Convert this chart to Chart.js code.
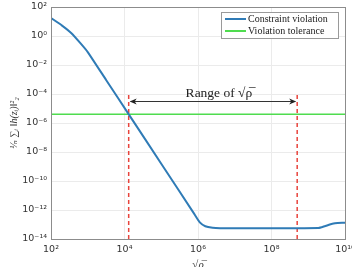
<!DOCTYPE html>
<html>
<head>
  <title>Constraint violation vs sqrt(rho)</title>
  <script src="https://cdn.jsdelivr.net/npm/chart.js"></script>
  <style>
    body {
      margin: 0;
      background: #fff;
      overflow: hidden;
    }
    #wrap {
      position: relative;
      width: 352px;
      height: 267px;
    }
  </style>
</head>
<body>
  <div id="wrap"><canvas id="c"></canvas></div>

  <script>
    // (log-log axes)
    const sqrtRho   = [1e2, 2e2, 3.6e2, 6.3e2, 1e3, 3.16e3, 1.32e4, 1e5, 7.9e5, 1.12e6, 1.58e6, 2.5e6, 4e6, 1e7, 1e8, 1.9e9, 2.8e9, 4.5e9, 6.3e9, 1e10];
    const violation = [17.4, 5.2, 1.55, 0.32, 0.078, 9.3e-4, 3.8e-6, 1.55e-9, 5.4e-13, 1.4e-13, 7.6e-14, 6.0e-14, 5.6e-14, 5.6e-14, 5.6e-14, 5.7e-14, 7.6e-14, 1.12e-13, 1.29e-13, 1.3e-13];

    const tolX = [1e2, 1e10];
    const tolerance = 4e-6;

    const rangeLo = 1.3e4;
    const rangeHi = 5e8;
    const rangeTop = 1.3e-4;
    const rangeBottom = 1e-14;

    const xTickVals = [1e2, 1e4, 1e6, 1e8, 1e10];
    const xTickLabels = ['10²', '10⁴', '10⁶', '10⁸', '10¹⁰'];
    const yTickVals = [1e-14, 1e-12, 1e-10, 1e-8, 1e-6, 1e-4, 1e-2, 1e0, 1e2];
    const yTickLabels = ['10⁻¹⁴', '10⁻¹²', '10⁻¹⁰', '10⁻⁸', '10⁻⁶', '10⁻⁴', '10⁻²', '10⁰', '10²'];

    const rangeText = 'Range of √ρ̅';

    const pts = (xs, ys) => xs.map((x, i) => ({ x: x, y: ys[i] }));

    const tickFont = { family: '"DejaVu Sans", sans-serif', size: 9.5 };

    // box round the axes + legend + range arrow
    const extras = {
      id: 'extras',
      afterDraw(chart) {
        const ctx = chart.ctx;
        const a = chart.chartArea;
        const xs = chart.scales.x;
        ctx.save();

        ctx.strokeStyle = '#8c8c8c';
        ctx.lineWidth = 1;
        ctx.strokeRect(Math.round(a.left) + 0.5, Math.round(a.top) + 0.5,
                       Math.round(a.right - a.left), Math.round(a.bottom - a.top));

        // range arrow
        const x1 = xs.getPixelForValue(rangeLo);
        const x2 = xs.getPixelForValue(rangeHi);
        const ay = 101.5;
        ctx.strokeStyle = '#333';
        ctx.fillStyle = '#222';
        ctx.beginPath();
        ctx.moveTo(x1 + 2, ay);
        ctx.lineTo(x2 - 2, ay);
        ctx.stroke();
        ctx.beginPath();
        ctx.moveTo(x1 + 1, ay); ctx.lineTo(x1 + 8, ay - 3); ctx.lineTo(x1 + 6, ay); ctx.lineTo(x1 + 8, ay + 3);
        ctx.closePath(); ctx.fill();
        ctx.beginPath();
        ctx.moveTo(x2 - 1, ay); ctx.lineTo(x2 - 8, ay - 3); ctx.lineTo(x2 - 6, ay); ctx.lineTo(x2 - 8, ay + 3);
        ctx.closePath(); ctx.fill();

        ctx.font = '13.5px "Liberation Serif", serif';
        ctx.textAlign = 'center';
        ctx.textBaseline = 'alphabetic';
        ctx.fillText(rangeText, (x1 + x2) / 2 + 6, 97);

        // legend
        const lx = 221, ly = 12, lw = 117, lh = 26;
        ctx.fillStyle = '#fff';
        ctx.fillRect(lx, ly, lw, lh);
        ctx.strokeStyle = '#9a9a9a';
        ctx.lineWidth = 1;
        ctx.strokeRect(lx + 0.5, ly + 0.5, lw, lh);
        ctx.font = '10px "Liberation Serif", serif';
        ctx.textAlign = 'left';
        ctx.textBaseline = 'middle';
        chart.data.datasets.slice(0, 2).forEach((ds, i) => {
          const y = ly + 7 + i * 12;
          ctx.strokeStyle = ds.borderColor;
          ctx.lineWidth = 2;
          ctx.beginPath();
          ctx.moveTo(lx + 4, y);
          ctx.lineTo(lx + 25, y);
          ctx.stroke();
          ctx.fillStyle = '#222';
          ctx.fillText(ds.label, lx + 27, y);
        });
        ctx.restore();
      }
    };

    new Chart(document.getElementById('c'), {
      type: 'scatter',
      data: {
        datasets: [
          {
            label: 'Constraint violation',
            data: pts(sqrtRho, violation),
            borderColor: '#2f7bb6',
            borderWidth: 2,
            showLine: true,
            pointRadius: 0,
            tension: 0.15
          },
          {
            label: 'Violation tolerance',
            data: pts(tolX, [tolerance, tolerance]),
            borderColor: '#4fdc4f',
            borderWidth: 1.6,
            showLine: true,
            pointRadius: 0
          },
          {
            label: 'lo',
            data: pts([rangeLo, rangeLo], [rangeBottom, rangeTop]),
            borderColor: '#e8443c',
            borderWidth: 1.5,
            borderDash: [4, 3],
            showLine: true,
            pointRadius: 0
          },
          {
            label: 'hi',
            data: pts([rangeHi, rangeHi], [rangeBottom, rangeTop]),
            borderColor: '#e8443c',
            borderWidth: 1.5,
            borderDash: [4, 3],
            showLine: true,
            pointRadius: 0
          }
        ]
      },
      options: {
        responsive: true,
        maintainAspectRatio: false,
        animation: false,
        layout: { padding: { left: 0, right: 7, top: 7, bottom: 0 } },
        plugins: {
          legend: { display: false },
          tooltip: { enabled: false }
        },
        scales: {
          x: {
            type: 'logarithmic',
            min: 1e2,
            max: 1e10,
            afterBuildTicks: (s) => { s.ticks = xTickVals.map(v => ({ value: v })); },
            afterFit: (s) => { s.height = 28; s.paddingLeft = 0; s.paddingRight = 0; },
            ticks: {
              autoSkip: false,
              maxRotation: 0,
              padding: 5,
              color: '#333',
              font: tickFont,
              callback: (v) => xTickLabels[xTickVals.indexOf(v)] || ''
            },
            grid: { color: '#ebebeb', drawTicks: false },
            border: { display: false },
            title: {
              display: true,
              text: '√ρ̅',
              color: '#333',
              padding: { top: 0, bottom: -5 },
              font: { family: '"Liberation Serif", serif', size: 11, style: 'italic' }
            }
          },
          y: {
            type: 'logarithmic',
            min: 1e-14,
            max: 1e2,
            afterBuildTicks: (s) => { s.ticks = yTickVals.map(v => ({ value: v })); },
            afterFit: (s) => { s.width = 51; s.paddingTop = 0; s.paddingBottom = 0; },
            ticks: {
              autoSkip: false,
              padding: 4,
              color: '#333',
              font: tickFont,
              callback: (v) => yTickLabels[yTickVals.indexOf(v)] || ''
            },
            grid: { color: '#ebebeb', drawTicks: false },
            border: { display: false },
            title: {
              display: true,
              text: '¹⁄ₙ ∑ᵢ ‖h(zᵢ)‖²₂',
              color: '#333',
              padding: { top: 8, bottom: 0 },
              font: { family: '"Liberation Serif", "DejaVu Serif", serif', size: 10, style: 'italic' }
            }
          }
        }
      },
      plugins: [extras]
    });
  </script>
</body>
</html>
